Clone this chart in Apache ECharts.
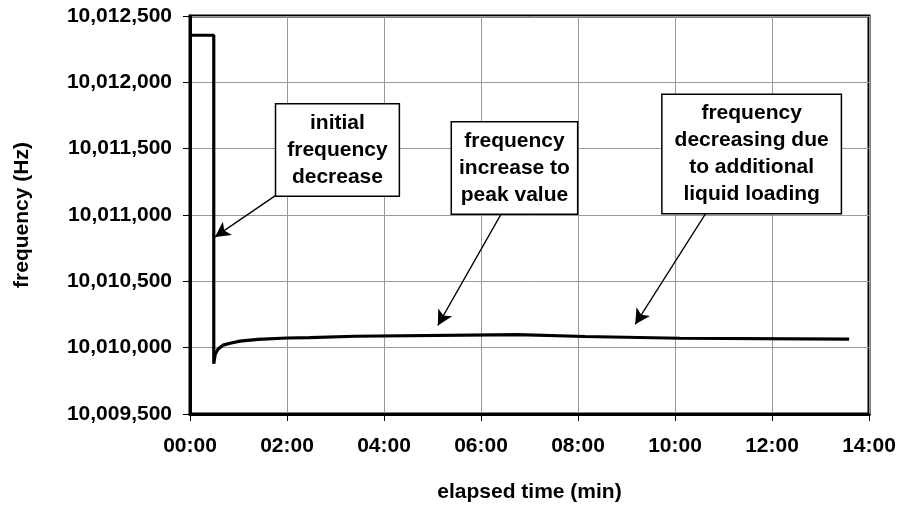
<!DOCTYPE html>
<html>
<head>
<meta charset="utf-8" />
<title>frequency vs elapsed time</title>
<script src="https://cdn.jsdelivr.net/npm/echarts@6.0.0/dist/echarts.min.js"></script>
<style>html,body{margin:0;padding:0;background:#fff}#chart{width:899px;height:508px}</style>
</head>
<body>
<div id="chart"></div>
<script>
// elapsed time (minutes) and frequency (Hz)
const times = [0, 0.49, 0.49, 0.52, 0.58, 0.68, 0.85, 1.03, 1.4, 2.0, 2.47, 2.48, 3.4, 3.41, 6.76, 6.77, 8.14, 8.15, 10.1, 10.11, 13.59];
const freqs = [10012355, 10012355, 10009879, 10009950, 10009990, 10010019, 10010035, 10010049, 10010062, 10010073, 10010075, 10010084, 10010086, 10010099, 10010099, 10010086, 10010084, 10010073, 10010071, 10010064, 10010064];

const xTicks = [0, 2, 4, 6, 8, 10, 12, 14];

// annotation texts, box centres and arrow ends (data coordinates)
const notes = [
  { text: "initial\nfrequency\ndecrease", at: [3.04, 10011490], pad: [5, 11], from: [2.04, 10011216], to: [0.515, 10010835] },
  { text: "frequency\nincrease to\npeak value", at: [6.69, 10011355], pad: [5, 7], from: [6.54, 10011088], to: [5.11, 10010168] },
  { text: "frequency\ndecreasing due\nto additional\nliquid loading", at: [11.58, 10011460], pad: [5, 12], from: [10.70, 10011050], to: [9.18, 10010176] },
];

const FONT = "'Liberation Sans', Arial, sans-serif";
const fmtHz = (v) => Math.round(v).toLocaleString("en-US");
const fmtMin = (v) => (v < 10 ? "0" : "") + v + ":00";

const chart = echarts.init(document.getElementById("chart"), null, { renderer: "canvas" });

chart.setOption({
  animation: false,
  backgroundColor: "#fff",
  textStyle: { fontFamily: FONT },
  grid: { left: 190, right: 30, top: 16, bottom: 91, show: true, borderColor: "#000", borderWidth: 3 },
  xAxis: {
    type: "value", min: 0, max: 14, interval: 2,
    name: "elapsed time (min)", nameLocation: "middle", nameGap: 68,
    nameTextStyle: { fontSize: 21, fontWeight: "bold", color: "#000", fontFamily: FONT },
    axisLine: { lineStyle: { color: "#000", width: 3 } },
    axisTick: { show: true, length: 7, lineStyle: { color: "#000", width: 1 } },
    axisLabel: { formatter: fmtMin, fontSize: 21, fontWeight: "bold", color: "#000", margin: 22, fontFamily: FONT },
    splitLine: { show: true, lineStyle: { color: "#999", width: 1 } },
  },
  yAxis: {
    type: "value", min: 10009500, max: 10012500, interval: 500,
    name: "frequency (Hz)", nameLocation: "middle", nameGap: 157, nameRotate: 90,
    nameTextStyle: { fontSize: 21, fontWeight: "bold", color: "#000", fontFamily: FONT },
    axisLine: { show: true, lineStyle: { color: "#000", width: 3 } },
    axisTick: { show: true, length: 7, lineStyle: { color: "#000", width: 1 } },
    axisLabel: { formatter: fmtHz, fontSize: 21, fontWeight: "bold", color: "#000", margin: 18, fontFamily: FONT },
    splitLine: { show: true, lineStyle: { color: "#999", width: 1 } },
  },
  series: [
    {
      type: "line",
      data: times.map((t, i) => [t, freqs[i]]),
      showSymbol: false,
      lineStyle: { color: "#000", width: 3.2 },
      z: 5,
      markLine: {
        silent: true,
        symbol: ["none", "arrow"],
        symbolSize: [12, 15],
        label: { show: false },
        lineStyle: { color: "#000", width: 1.3, type: "solid" },
        data: notes.map((n) => [{ coord: n.from }, { coord: n.to }]),
      },
      markPoint: {
        silent: true,
        symbol: "rect",
        symbolSize: 0,
        data: notes.map((n) => ({
          coord: n.at,
          label: {
            show: true, position: "inside", formatter: n.text,
            fontSize: 21, fontWeight: "bold", color: "#000", fontFamily: FONT,
            lineHeight: 27, align: "center",
            backgroundColor: "#fff", borderColor: "#000", borderWidth: 1.5,
            padding: n.pad,
          },
        })),
      },
    },
  ],
});

window.addEventListener("resize", () => chart.resize());
</script>
</body>
</html>
